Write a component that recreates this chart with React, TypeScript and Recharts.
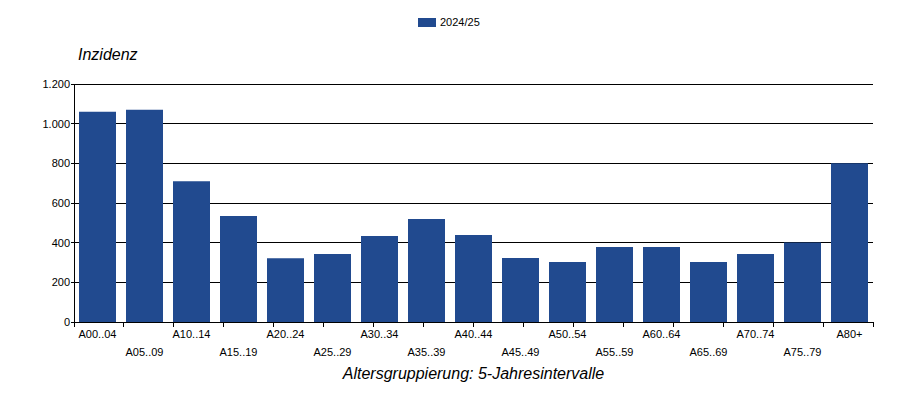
import React from 'react';
import { BarChart, Bar, XAxis, YAxis, CartesianGrid, Legend } from 'recharts';

const categories = ['A00..04','A05..09','A10..14','A15..19','A20..24','A25..29','A30..34','A35..39','A40..44','A45..49','A50..54','A55..59','A60..64','A65..69','A70..74','A75..79','A80+'];
const values2024 = [1060, 1070, 710, 535, 322, 343, 434, 519, 439, 323, 303, 378, 378, 302, 343, 401, 800];
const yTicks = [0, 200, 400, 600, 800, 1000, 1200];
const boundaryTicks = Array.from({ length: categories.length + 1 }, (_, i) => i);
const seriesName = '2024/25';
const yTitle = 'Inzidenz';
const xTitle = 'Altersgruppierung: 5-Jahresintervalle';

const data = categories.map((c, i) => ({ cat: c, v: values2024[i] }));

const FONT = '"Liberation Sans", Arial, sans-serif';
const BAR = '#214A8F';
const crisp = { stroke: '#000', shapeRendering: 'crispEdges' as const };

const fmt = (v: number) => v.toLocaleString('de-DE');

const CatTick = (props: any) => {
  const { x, y, payload, index } = props;
  const row = index % 2;
  return (
    <text x={x} y={y + (row ? 33 : 15)} textAnchor="middle" fill="#000" fontSize={11} fontFamily={FONT}>
      {payload.value}
    </text>
  );
};

const LegendContent = () => (
  <div style={{ height: 72, position: 'relative', fontFamily: FONT, fontSize: 11 }}>
    <div style={{ position: 'absolute', left: 418, top: 6, width: 18, height: 9, background: BAR }} />
    <div style={{ position: 'absolute', left: 440, top: 3, lineHeight: '14px', color: '#000' }}>{seriesName}</div>
  </div>
);

export default function App() {
  return (
    <div style={{ position: 'absolute', left: 0, top: 0, width: 900, height: 400, background: '#fff' }}>
      <style>{'.recharts-cartesian-grid line, .recharts-cartesian-axis line { shape-rendering: crispEdges; }'}</style>
      <BarChart
        width={900}
        height={400}
        data={data}
        margin={{ top: 12, right: 27, bottom: 37, left: 0 }}
        barCategoryGap={5}
      >
        <CartesianGrid xAxisId="b" vertical={false} stroke="#000" strokeOpacity={1} />
        <YAxis
          width={74}
          domain={[0, 1200]}
          ticks={yTicks}
          interval={0}
          tickFormatter={fmt}
          axisLine={crisp}
          tickLine={crisp}
          tickSize={3}
          tickMargin={1}
          tick={{ fill: '#000', fontSize: 11, fontFamily: FONT }}
        />
        <XAxis
          xAxisId="a"
          type="number"
          domain={[0, categories.length]}
          allowDataOverflow
          ticks={boundaryTicks}
          interval={0}
          height={1}
          tickSize={5}
          tickFormatter={() => ''}
          axisLine={crisp}
          tickLine={crisp}
        />
        <XAxis
          xAxisId="b"
          dataKey="cat"
          interval={0}
          height={40}
          axisLine={false}
          tickLine={false}
          tickSize={0}
          tickMargin={0}
          tick={<CatTick />}
        />
        <Legend verticalAlign="top" content={<LegendContent />} />
        <Bar xAxisId="b" dataKey="v" name={seriesName} fill={BAR} isAnimationActive={false} />
      </BarChart>
      <div style={{ position: 'absolute', left: 78, top: 46, fontFamily: FONT, fontSize: 16, fontStyle: 'italic', lineHeight: '18px', color: '#000' }}>
        {yTitle}
      </div>
      <div style={{ position: 'absolute', left: 0, width: 947, top: 365, textAlign: 'center', fontFamily: FONT, fontSize: 16, fontStyle: 'italic', lineHeight: '18px', color: '#000' }}>
        {xTitle}
      </div>
    </div>
  );
}
